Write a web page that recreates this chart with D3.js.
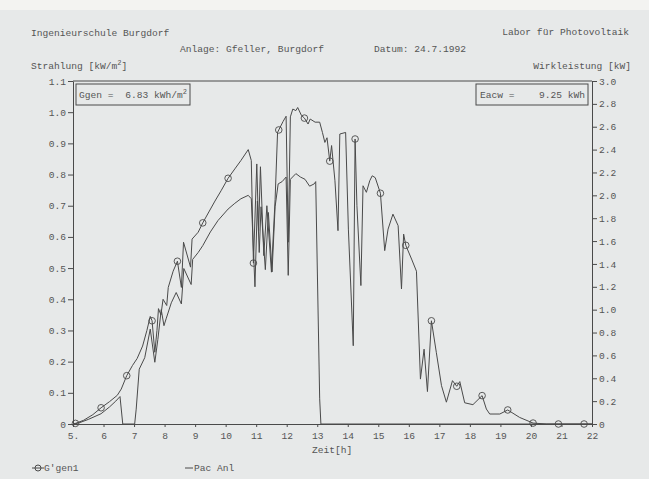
<!DOCTYPE html>
<html><head><meta charset="utf-8">
<script src="https://cdn.jsdelivr.net/npm/d3@7"></script>
<style>
html,body{margin:0;padding:0;background:#e8eaea;}
svg{display:block;}
text{font-family:"Liberation Mono","DejaVu Sans Mono",monospace;font-size:9.6px;fill:#555;white-space:pre;}
</style></head><body>
<svg id="c" width="649" height="479"></svg>
<script>
// ---- data ----
const hourTicks = [5,6,7,8,9,10,11,12,13,14,15,16,17,18,19,20,21,22];
const leftTicks = [0,0.1,0.2,0.3,0.4,0.5,0.6,0.7,0.8,0.9,1.0,1.1];
const rightTicks = [0,0.2,0.4,0.6,0.8,1.0,1.2,1.4,1.6,1.8,2.0,2.2,2.4,2.6,2.8,3.0];

// G'gen1 irradiance [kW/m2]
const gTime = [5.00,5.08,5.35,5.65,5.92,6.2,6.45,6.58,6.76,6.95,7.1,7.28,7.42,7.53,7.59,7.68,7.75,7.8,7.88,7.95,8.07,8.12,8.28,8.42,8.55,8.62,8.85,8.9,9.1,9.25,9.45,9.65,9.85,10.08,10.3,10.5,10.74,10.84,10.91,11.02,11.08,11.14,11.25,11.35,11.5,11.62,11.7,11.74,11.88,11.98,12.05,12.12,12.2,12.3,12.36,12.48,12.58,12.7,12.77,12.93,13.08,13.17,13.25,13.32,13.41,13.47,13.58,13.68,13.74,13.93,14.02,14.18,14.24,14.3,14.43,14.5,14.61,14.72,14.8,14.9,15.07,15.21,15.32,15.48,15.65,15.76,15.83,15.9,16.09,16.25,16.38,16.5,16.61,16.74,16.9,17.07,17.23,17.43,17.57,17.67,17.83,18.1,18.4,18.54,18.65,18.98,19.24,19.63,20.07,20.5,20.9,21.74,22.0];
const gVal  = [0.000,0.002,0.012,0.030,0.052,0.072,0.092,0.112,0.155,0.188,0.210,0.250,0.300,0.345,0.331,0.230,0.300,0.370,0.350,0.400,0.380,0.438,0.490,0.522,0.438,0.583,0.503,0.593,0.615,0.645,0.680,0.715,0.748,0.788,0.818,0.845,0.880,0.845,0.516,0.834,0.620,0.825,0.540,0.700,0.487,0.720,0.935,0.943,0.970,0.987,0.583,0.985,1.010,1.005,1.015,0.990,0.981,0.962,0.978,0.968,0.968,0.935,0.903,0.918,0.843,0.893,0.780,0.620,0.930,0.935,0.625,0.251,0.914,0.700,0.444,0.764,0.743,0.780,0.796,0.790,0.740,0.556,0.625,0.673,0.636,0.433,0.609,0.573,0.529,0.490,0.144,0.240,0.104,0.331,0.230,0.123,0.070,0.139,0.121,0.136,0.068,0.062,0.091,0.048,0.032,0.032,0.045,0.021,0.003,0.000,0.000,0.000,0.000];
const gMarkTimes = [5.08,5.92,6.76,7.59,8.42,9.25,10.08,10.91,11.74,12.58,13.41,14.24,15.07,15.9,16.74,17.57,18.4,19.24,20.07,20.9,21.74];

// Pac Anl power [kW]
const pTime = [5.00,5.15,5.5,5.92,6.2,6.4,6.54,6.63,7.02,7.07,7.17,7.35,7.53,7.68,7.78,7.89,7.98,8.05,8.22,8.38,8.55,8.63,8.87,8.92,9.1,9.25,9.5,9.75,10.08,10.3,10.5,10.74,10.84,10.96,11.04,11.1,11.16,11.3,11.4,11.52,11.62,11.72,11.85,11.98,12.05,12.12,12.3,12.45,12.6,12.75,12.9,12.95,13.08,13.12,22.0];
const pVal  = [0,0.005,0.04,0.09,0.15,0.20,0.24,0,0,0.13,0.48,0.58,0.83,0.54,0.74,1.00,0.86,0.92,1.06,1.15,1.05,1.36,1.22,1.44,1.50,1.56,1.68,1.78,1.88,1.93,1.97,2.00,1.97,1.20,1.95,1.50,1.90,1.35,1.85,1.33,1.90,2.10,2.12,2.16,1.30,2.14,2.19,2.16,2.14,2.08,2.10,2.12,0.22,0,0];

// ---- drawing ----
const svg = d3.select("#c");
const ink = "#4a4a4a";
svg.append("rect").attr("width",649).attr("height",479).attr("fill","#e7e9e9");
svg.append("rect").attr("width",649).attr("height",10).attr("fill","#f3f3f1");

const x = d3.scaleLinear().domain([5,22]).range([73,592]);
const yL = d3.scaleLinear().domain([0,1.1]).range([424,81]);
const yR = d3.scaleLinear().domain([0,3.0]).range([424,81]);
const fmt = d => d===0 ? "0" : d3.format(".1f")(d);

function styleAxis(g){
  g.selectAll("path,line").attr("stroke",ink).attr("stroke-width",1);
  g.selectAll("text").attr("fill","#555").style("font-family",'"Liberation Mono","DejaVu Sans Mono",monospace').style("font-size","9.6px");
}
svg.append("g").attr("transform","translate(73,0)")
  .call(d3.axisLeft(yL).tickValues(leftTicks).tickFormat(fmt).tickSize(5).tickPadding(2).tickSizeOuter(0)).call(styleAxis);
svg.append("g").attr("transform","translate(592,0)")
  .call(d3.axisRight(yR).tickValues(rightTicks).tickFormat(fmt).tickSize(5).tickPadding(2).tickSizeOuter(0)).call(styleAxis);
svg.append("g").attr("transform","translate(0,424)")
  .call(d3.axisBottom(x).tickValues(hourTicks).tickFormat(d => d===5 ? "5." : String(d)).tickSize(3).tickPadding(5).tickSizeOuter(0)).call(styleAxis);
// top frame line
svg.append("line").attr("x1",x(5)).attr("x2",x(22)).attr("y1",yL(1.1)).attr("y2",yL(1.1)).attr("stroke",ink);

// series
const gData = gTime.map((t,i)=>({t, v:gVal[i]}));
const pData = pTime.map((t,i)=>({t, v:pVal[i]}));
svg.append("path").datum(pData).attr("fill","none").attr("stroke",ink).attr("stroke-width",1)
  .attr("d", d3.line().x(d=>x(d.t)).y(d=>yR(d.v)));
svg.append("path").datum(gData).attr("fill","none").attr("stroke",ink).attr("stroke-width",1)
  .attr("d", d3.line().x(d=>x(d.t)).y(d=>yL(d.v)));
const markSet = new Set(gMarkTimes);
svg.selectAll("circle.m").data(gData.filter(d=>markSet.has(d.t))).join("circle")
  .attr("class","m").attr("cx",d=>x(d.t)).attr("cy",d=>yL(d.v)).attr("r",3.3)
  .attr("fill","none").attr("stroke",ink).attr("stroke-width",0.9);

// boxes
svg.append("rect").attr("x",76).attr("y",84).attr("width",114).attr("height",21).attr("fill","none").attr("stroke",ink);
svg.append("text").attr("x",79).attr("y",98).text("Ggen =");
const t1 = svg.append("text").attr("x",187).attr("y",98).attr("text-anchor","end");
t1.append("tspan").text("6.83 kWh/m");
t1.append("tspan").attr("dy",-4).style("font-size","7px").text("2");
svg.append("rect").attr("x",476).attr("y",84).attr("width",112).attr("height",21).attr("fill","none").attr("stroke",ink);
svg.append("text").attr("x",480).attr("y",98).text("Eacw =");
svg.append("text").attr("x",585).attr("y",98).attr("text-anchor","end").text("9.25 kWh");

// titles
svg.append("text").attr("x",31).attr("y",36).text("Ingenieurschule Burgdorf");
svg.append("text").attr("x",629).attr("y",35).attr("text-anchor","end").text("Labor für Photovoltaik");
svg.append("text").attr("x",180).attr("y",52).text("Anlage: Gfeller, Burgdorf");
svg.append("text").attr("x",374).attr("y",52).text("Datum: 24.7.1992");
const st = svg.append("text").attr("x",31).attr("y",69);
st.append("tspan").text("Strahlung [kW/m");
st.append("tspan").attr("dy",-4).style("font-size","7px").text("2");
st.append("tspan").attr("dy",4).text("]");
svg.append("text").attr("x",631).attr("y",69).attr("text-anchor","end").text("Wirkleistung [kW]");
svg.append("text").attr("x",312).attr("y",453).text("Zeit[h]");

// legend
svg.append("line").attr("x1",32).attr("x2",44).attr("y1",468).attr("y2",468).attr("stroke",ink);
svg.append("circle").attr("cx",38).attr("cy",468).attr("r",3).attr("fill","none").attr("stroke",ink);
svg.append("text").attr("x",44).attr("y",471).text("G'gen1");
svg.append("line").attr("x1",185).attr("x2",193).attr("y1",468).attr("y2",468).attr("stroke",ink);
svg.append("text").attr("x",194).attr("y",471).text("Pac Anl");
</script>
</body></html>
